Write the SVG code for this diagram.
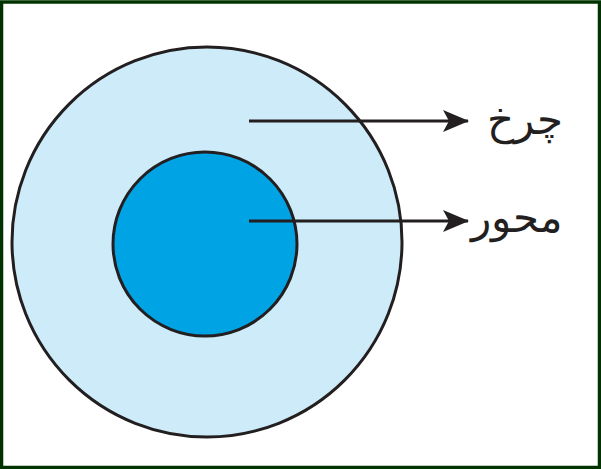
<svg xmlns="http://www.w3.org/2000/svg" width="601" height="469" viewBox="0 0 601 469">
<defs>
<style>
.lbl{font-family:"DejaVu Sans","Liberation Sans",sans-serif;font-size:42px;font-weight:200;fill:#231f20;text-anchor:middle}
.conn{stroke:#231f20;stroke-width:3;fill:none}
</style>
<marker id="ah" markerWidth="26" markerHeight="22" refX="25" refY="11" orient="auto" markerUnits="userSpaceOnUse">
<path d="M0,0 L26,11 L0,22 L6,11 Z" fill="#231f20"/>
</marker>
</defs>
<rect x="0" y="0" width="601" height="469" fill="#ffffff"/>
<rect x="1.5" y="2" width="598" height="465.5" fill="none" stroke="#003300" stroke-width="3.5"/>
<g id="wheel">
<circle cx="207" cy="242" r="195" fill="#cdebf8" stroke="#231f20" stroke-width="3"/>
</g>
<g id="axle">
<circle cx="205" cy="244" r="92" fill="#00a3e4" stroke="#231f20" stroke-width="3"/>
</g>
<g id="connectors">
<line class="conn" x1="249" y1="121" x2="468" y2="121" marker-end="url(#ah)"/>
<line class="conn" x1="249" y1="221" x2="468" y2="221" marker-end="url(#ah)"/>
</g>
<g id="label-wheel"><text class="lbl" x="525" y="134">چرخ</text></g>
<g id="label-axle"><text class="lbl" x="517" y="232">محور</text></g>
</svg>
